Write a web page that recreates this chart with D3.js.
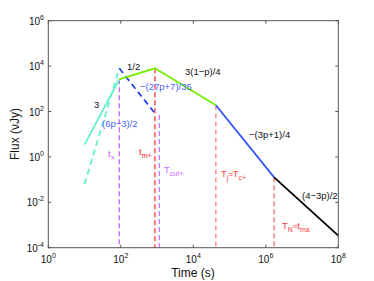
<!DOCTYPE html>
<html><head><meta charset="utf-8">
<script src="https://cdn.jsdelivr.net/npm/d3@7"></script>
<style>body{margin:0;background:#fff}svg{display:block}text{font-family:"Liberation Sans",Arial,sans-serif}</style>
</head><body>
<svg id="c" width="374" height="281"></svg>
<script>
// data (time s, flux νJy)
const cyanSolid = [[10, 3.5], [91, 2630]];
const cyanDashed = [[10, 0.064], [91, 8000]];
const blueDashed = [[91, 8000], [875, 83]];
const greenLine = [[91, 2630], [875, 8000], [42000, 188]];
const blueSolid = [[42000, 188], [1.7e6, 0.126]];
const blackLine = [[1.7e6, 0.126], [1e8, 3.4e-4]];
const vlines = [
  {t: 91, f: 2630, c: "#cc66ee"},
  {t: 875, f: 8000, c: "#ff3333"},
  {t: 1150, f: 70, c: "#cc77ff"},
  {t: 42000, f: 188, c: "#ff8080"},
  {t: 1.7e6, f: 0.126, c: "#ff7070"}
];
const xTicks = [1, 1e2, 1e4, 1e6, 1e8];
const yTicks = [1e-4, 1e-2, 1, 1e2, 1e4, 1e6];

const svg = d3.select("#c");
const L = 48.3, R = 338.3, T = 20.7, B = 247.7;
const x = d3.scaleLog().domain([1, 1e8]).range([L, R]);
const y = d3.scaleLog().domain([1e-4, 1e6]).range([B, T]);
const line = d3.line().x(d => x(d[0])).y(d => y(d[1]));

vlines.forEach(v => {
  svg.append("line").attr("x1", x(v.t)).attr("x2", x(v.t))
    .attr("y1", y(v.f)).attr("y2", B)
    .attr("stroke", v.c).attr("stroke-width", 1.3).attr("stroke-dasharray", "5,3");
});

svg.append("path").attr("d", line(cyanSolid)).attr("fill", "none").attr("stroke", "#66f0d0").attr("stroke-width", 1.8);
svg.append("path").attr("d", line(cyanDashed)).attr("fill", "none").attr("stroke", "#66f0d0").attr("stroke-width", 1.8).attr("stroke-dasharray", "6,4");
svg.append("path").attr("d", line(blueDashed)).attr("fill", "none").attr("stroke", "#2244ee").attr("stroke-width", 1.8).attr("stroke-dasharray", "6,4");
svg.append("path").attr("d", line(greenLine)).attr("fill", "none").attr("stroke", "#77ee00").attr("stroke-width", 1.8);
svg.append("path").attr("d", line(blueSolid)).attr("fill", "none").attr("stroke", "#3355ff").attr("stroke-width", 1.8);
svg.append("path").attr("d", line(blackLine)).attr("fill", "none").attr("stroke", "#000").attr("stroke-width", 1.8);

svg.append("rect").attr("x", L).attr("y", T).attr("width", R - L).attr("height", B - T)
  .attr("fill", "none").attr("stroke", "#555").attr("stroke-width", 1);

const tl = 3;
xTicks.forEach(t => {
  const px = x(t);
  svg.append("line").attr("x1", px).attr("x2", px).attr("y1", B).attr("y2", B - tl).attr("stroke", "#555");
  svg.append("line").attr("x1", px).attr("x2", px).attr("y1", T).attr("y2", T + tl).attr("stroke", "#555");
  const e = Math.round(Math.log10(t));
  const tx = svg.append("text").attr("x", px).attr("y", 263).attr("text-anchor", "middle").attr("font-size", 10).attr("fill", "#111");
  tx.append("tspan").text("10");
  tx.append("tspan").attr("dy", -5).attr("font-size", 7).text(e);
});
yTicks.forEach(t => {
  const py = y(t);
  svg.append("line").attr("x1", L).attr("x2", L + tl).attr("y1", py).attr("y2", py).attr("stroke", "#555");
  svg.append("line").attr("x1", R).attr("x2", R - tl).attr("y1", py).attr("y2", py).attr("stroke", "#555");
  const e = Math.round(Math.log10(t));
  const tx = svg.append("text").attr("x", 44).attr("y", py + 4).attr("text-anchor", "end").attr("font-size", 10).attr("fill", "#111");
  tx.append("tspan").text("10");
  tx.append("tspan").attr("dy", -5).attr("font-size", 7).text(e);
});

svg.append("text").attr("x", 193).attr("y", 277).attr("text-anchor", "middle").attr("font-size", 12).attr("fill", "#111").text("Time (s)");
svg.append("text").attr("transform", "translate(19,134) rotate(-90)").attr("text-anchor", "middle").attr("font-size", 12).attr("fill", "#111").text("Flux (νJy)");

function lab(xp, yp, txt, col, sub) {
  const t = svg.append("text").attr("x", xp).attr("y", yp).attr("font-size", 9.5).attr("fill", col);
  t.append("tspan").text(txt);
  if (sub) t.append("tspan").attr("dy", 3).attr("font-size", 7).text(sub);
  return t;
}
lab(94, 108, "3", "#111");
lab(102, 127, "(6p−3)/2", "#4a63ff");
lab(127, 70, "1/2", "#111");
lab(140, 90, "−(27p+7)/35", "#4a63ff");
lab(185, 75, "3(1−p)/4", "#111");
lab(249, 138, "−(3p+1)/4", "#111");
lab(302, 199, "(4−3p)/2", "#111");
lab(108, 157, "t", "#cc55ee", "×");
lab(139, 155, "t", "#ff2222", "m+");
lab(164, 173, "T", "#cc66ff", "cut+");
(function(){
  const t = svg.append("text").attr("x", 221).attr("y", 177).attr("font-size", 9.5).attr("fill", "#ff3b3b");
  t.append("tspan").text("T");
  t.append("tspan").attr("dy", 3).attr("font-size", 7).text("j");
  t.append("tspan").attr("dy", -3).attr("font-size", 8).text("≈");
  t.append("tspan").attr("font-size", 9.5).text("T");
  t.append("tspan").attr("dy", 3).attr("font-size", 7).text("c+");
})();
(function(){
  const t = svg.append("text").attr("x", 282).attr("y", 229).attr("font-size", 9.5).attr("fill", "#ff3b3b");
  t.append("tspan").text("T");
  t.append("tspan").attr("dy", 3).attr("font-size", 7).text("N");
  t.append("tspan").attr("dy", -3).attr("font-size", 8).text("≈");
  t.append("tspan").attr("font-size", 9.5).text("t");
  t.append("tspan").attr("dy", 3).attr("font-size", 7).text("ma");
})();
</script>
</body></html>
